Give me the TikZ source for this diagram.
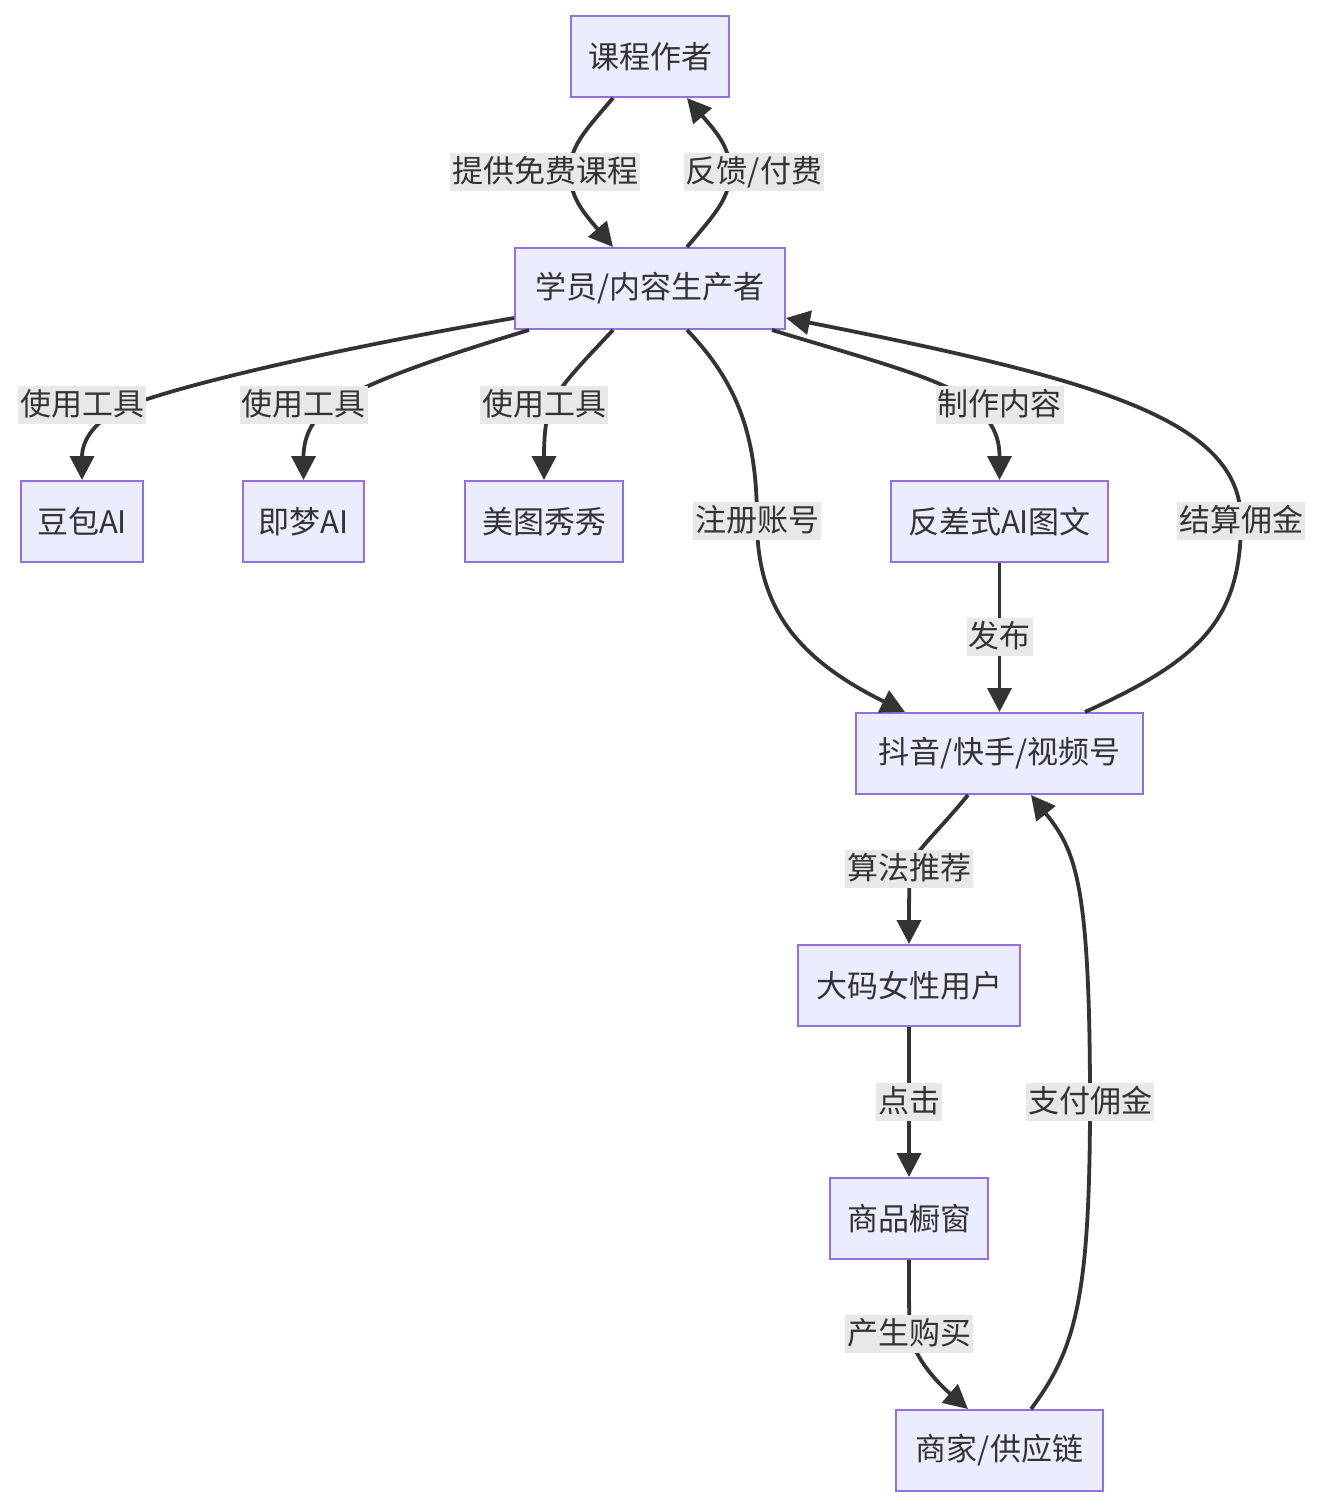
\documentclass[tikz,border=0pt]{standalone}
\usepackage{fontspec}
\setmainfont{Noto Sans CJK SC}
\usetikzlibrary{arrows.meta}
\definecolor{nodefill}{HTML}{ECECFF}
\definecolor{nodeline}{HTML}{9370DB}
\definecolor{edgec}{HTML}{333333}
\definecolor{lblbg}{HTML}{E8E8E8}
\begin{document}
\begin{tikzpicture}[x=1pt,y=-1pt,
  every node/.style={font=\fontsize{31}{37}\selectfont, text=edgec},
  box/.style={draw=nodeline, fill=nodefill, line width=2pt, minimum height=81pt, inner sep=0pt},
  lbl/.style={fill=lblbg, inner xsep=2pt, inner ysep=2pt, text height=27pt, text depth=7pt},
  edge/.style={draw=edgec, line width=3.8pt, -{Triangle[length=24pt,width=24pt]}}]
\useasboundingbox (0,0) rectangle (1324,1510);

\node[box, minimum width=158pt] (author) at (650,56.5) {课程作者};
\node[box, minimum width=270pt] (stu) at (650,288.5) {学员/内容生产者};
\node[box, minimum width=122pt] (doubao) at (82,521.5) {豆包AI};
\node[box, minimum width=121pt] (jimeng) at (303.5,521.5) {即梦AI};
\node[box, minimum width=158pt] (meitu) at (544,521.5) {美图秀秀};
\node[box, minimum width=217pt] (fancha) at (999.5,521.5) {反差式AI图文};
\node[box, minimum width=287pt] (douyin) at (999.5,753.5) {抖音/快手/视频号};
\node[box, minimum width=222pt] (user) at (909,985.5) {大码女性用户};
\node[box, minimum width=158pt] (shop) at (909,1218.5) {商品橱窗};
\node[box, minimum width=207pt] (merchant) at (999.5,1450.5) {商家/供应链};

% edges
\draw[edge] ([xshift=-37pt]author.south) .. controls +(-30,35) and +(0,-25) .. (570,172)
  .. controls +(0,25) and +(-30,-35) .. ([xshift=-37pt]stu.north);
\draw[edge] ([xshift=37pt]stu.north) .. controls +(30,-35) and +(0,25) .. (730,172)
  .. controls +(0,-25) and +(30,35) .. ([xshift=37pt]author.south);

\draw[edge] ([yshift=12pt]stu.south west) .. controls (330,350) and (180,385) .. (125,407)
  .. controls (95,420) and (82,440) .. (doubao.north);
\draw[edge] ([xshift=15pt]stu.south west) .. controls (430,360) and (360,385) .. (330,407)
  .. controls (310,420) and (303.5,440) .. (jimeng.north);
\draw[edge] ([xshift=-37pt]stu.south) .. controls (585,360) and (560,385) .. (551,405)
  .. controls (545,420) and (544,440) .. (meitu.north);
\draw[edge] ([xshift=37pt]stu.south) .. controls (740,385) and (757,440) .. (757,521)
  .. controls (757,610) and (800,660) .. ([xshift=-94.5pt]douyin.north);
\draw[edge] ([xshift=122pt]stu.south) .. controls (870,360) and (950,380) .. (975,405)
  .. controls (995,425) and (999.5,440) .. (fancha.north);
\draw[edge] (fancha.south) -- (douyin.north);
\draw[edge] ([xshift=85.5pt]douyin.north) .. controls (1200,660) and (1241,620) .. (1241,521)
  .. controls (1241,420) and (1100,380) .. ([yshift=12pt]stu.south east);
\draw[edge] ([xshift=-31.5pt]douyin.south) .. controls (935,835) and (911,855) .. (910,869)
  .. controls (909,890) and (909,910) .. (user.north);
\draw[edge] (user.south) -- (shop.north);
\draw[edge] (shop.south) .. controls (909,1300) and (909,1320) .. (910,1334)
  .. controls (915,1360) and (940,1385) .. ([xshift=-31.5pt]merchant.north);
\draw[edge] ([xshift=31.5pt]merchant.north) .. controls (1075,1350) and (1090,1300) .. (1090,1102)
  .. controls (1090,880) and (1075,850) .. ([xshift=31.5pt]douyin.south);

% labels
\node[lbl] (l1) at (545,172) {提供免费课程};
\node[lbl] (l2) at (754,172) {反馈/付费};
\node[lbl] (l3) at (82,405) {使用工具};
\node[lbl] (l4) at (303.5,405) {使用工具};
\node[lbl] (l5) at (544,405) {使用工具};
\node[lbl] (l6) at (757,521) {注册账号};
\node[lbl] (l7) at (999.5,405) {制作内容};
\node[lbl] (l8) at (999.5,637) {发布};
\node[lbl] (l9) at (1241,521) {结算佣金};
\node[lbl] (l10) at (909,869) {算法推荐};
\node[lbl] (l11) at (909,1102) {点击};
\node[lbl] (l12) at (909,1334) {产生购买};
\node[lbl] (l13) at (1090,1102) {支付佣金};
\end{tikzpicture}
\end{document}
